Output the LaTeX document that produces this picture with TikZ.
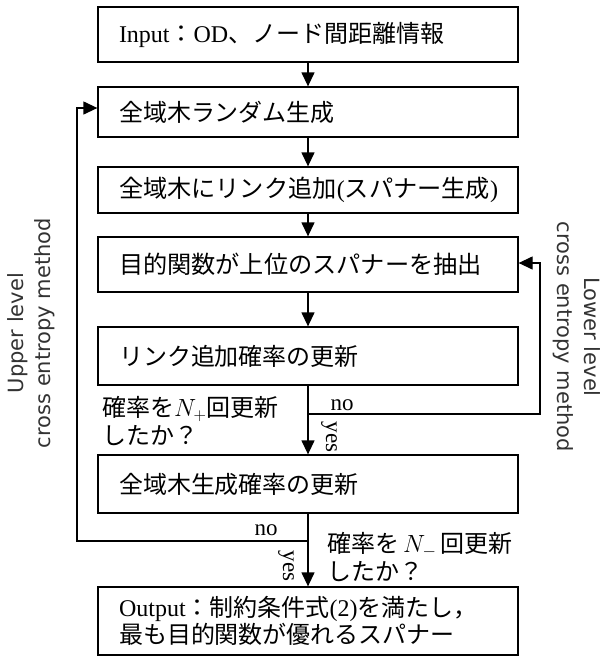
\documentclass[tikz,border=0pt]{standalone}
\usepackage{fontspec}
\setmainfont{Liberation Serif}
\newfontfamily\jp{Noto Sans CJK JP}
\newfontfamily\lbl{DejaVu Sans}
\usetikzlibrary{arrows.meta}
\begin{document}
\begin{tikzpicture}[x=1pt,y=-1pt,
  box/.style={draw, line width=1.3pt, minimum width=420pt, text width=378pt,
    inner xsep=21pt, inner ysep=0pt, align=left, font=\fontsize{24}{28}\selectfont},
  bigbox/.style={box, font=\fontsize{24.2}{28}\selectfont},
  conn/.style={line width=1.3pt, -{Triangle[length=14pt,width=13pt]}},
  ln/.style={line width=1.3pt},
  cond/.style={inner sep=0pt, align=left, font=\fontsize{24}{28}\selectfont},
  yn/.style={inner sep=0pt, font=\fontsize{23}{26}\selectfont},
  side/.style={inner sep=0pt, align=center, text=black!80, font=\lbl\fontsize{21}{27}\selectfont}]
\useasboundingbox (0,0) rectangle (608,657);

\node[box, minimum height=55pt] (b1) at (308,34.5) {Input{\jp ：}OD{\jp 、ノード間距離情報}};
\node[box, minimum height=50pt] (b2) at (308,112) {\jp 全域木ランダム生成};
\node[bigbox, minimum height=46pt] (b3) at (308,190) {{\jp 全域木にリンク追加}({\jp スパナー生成})};
\node[bigbox, minimum height=55pt] (b4) at (308,264.5) {\jp 目的関数が上位のスパナーを抽出};
\node[box, minimum height=58pt] (b5) at (308,356) {\jp リンク追加確率の更新};
\node[box, minimum height=58pt] (b6) at (308,484) {\jp 全域木生成確率の更新};
\node[box, minimum height=68pt, font=\fontsize{24}{27}\selectfont] (b7) at (308,621)
  {Output{\jp ：制約条件式}(2){\jp を満たし，}\\{\jp 最も目的関数が優れるスパナー}};

\coordinate (j1) at (308,414);
\coordinate (r1) at (540,414);
\coordinate (r2) at (540,263);
\coordinate (j2) at (308,541);
\coordinate (l1) at (77,541);
\coordinate (l2) at (77,108);

\draw[conn] (b1.south) -- (b2.north);
\draw[conn] (b2.south) -- (b3.north);
\draw[conn] (b3.south) -- (b4.north);
\draw[conn] (b4.south) -- (b5.north);
\draw[conn] (b5.south) -- (b6.north);
\draw[conn] (b6.south) -- (b7.north);
\draw[conn] (j1) -- (r1) -- (r2) -- (r2 -| b4.east);
\draw[conn] (j2) -- (l1) -- (l2) -- (l2 -| b2.west);

\node[cond, anchor=west] (q1) at (102,421) {{\jp 確率を}$N_{+}${\jp 回更新}\\{\jp したか？}};
\node[cond, anchor=west] (q2) at (327,557) {{\jp 確率を}\,$N_{-}$\,{\jp 回更新}\\{\jp したか？}};
\node[yn] (no1) at (342,405) {no};
\node[yn, rotate=-90] (yes1) at (329,437) {yes};
\node[yn] (no2) at (266,530) {no};
\node[yn, rotate=-90] (yes2) at (286,566) {yes};

\node[side, rotate=90] (up) at (31,333) {Upper level\\cross entropy method};
\node[side, rotate=-90] (low) at (576.5,337) {Lower level\\cross entropy method};
\end{tikzpicture}
\end{document}
